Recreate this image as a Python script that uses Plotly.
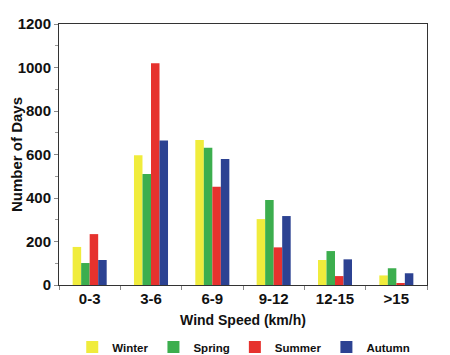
import plotly.graph_objects as go

categories = ["0-3", "3-6", "6-9", "9-12", "12-15", ">15"]
winter = [175, 596, 667, 303, 115, 44]
spring = [101, 510, 631, 391, 156, 77]
summer = [234, 1019, 452, 173, 41, 8]
autumn = [115, 664, 579, 317, 118, 54]

series = [
    ("Winter", winter, "#f0ec3c"),
    ("Spring", spring, "#3cae4e"),
    ("Summer", summer, "#e6322e"),
    ("Autumn", autumn, "#2c4292"),
]

fig = go.Figure()
for name, vals, col in series:
    fig.add_trace(go.Bar(x=categories, y=vals, name=name,
                         marker=dict(color=col, line=dict(width=0))))

font_family = "Liberation Sans, Arial, sans-serif"
fig.update_layout(
    width=442, height=347,
    margin=dict(l=51, r=23, t=16, b=70),
    paper_bgcolor="white", plot_bgcolor="white",
    barmode="group", bargap=0.445, bargroupgap=0,
    font=dict(family=font_family, color="#111"),
    showlegend=True,
    legend=dict(orientation="h", x=0.036, xanchor="left",
                yref="container", y=0.023, yanchor="middle",
                font=dict(size=11.5, weight="bold", family=font_family),
                itemwidth=30, traceorder="normal"),
)
fig.update_xaxes(
    automargin=False,
    showline=True, linecolor="#333", linewidth=1, mirror=True,
    ticks="outside", tickson="boundaries", ticklen=4, tickcolor="#888",
    tickfont=dict(size=15, weight="bold"),
    title=dict(text="Wind Speed (km/h)", font=dict(size=14, weight="bold"), standoff=9),
    showgrid=False,
)
fig.update_yaxes(
    automargin=False,
    range=[0, 1200], dtick=200,
    showline=True, linecolor="#333", linewidth=1, mirror=True,
    ticks="outside", ticklen=4, tickcolor="#888",
    minor=dict(dtick=100, ticks="outside", ticklen=3, tickcolor="#999"),
    tickfont=dict(size=15, weight="bold"),
    title=dict(text="Number of Days", font=dict(size=15, weight="bold"), standoff=2),
    showgrid=False, zeroline=False,
)
fig.write_html("out.html")
